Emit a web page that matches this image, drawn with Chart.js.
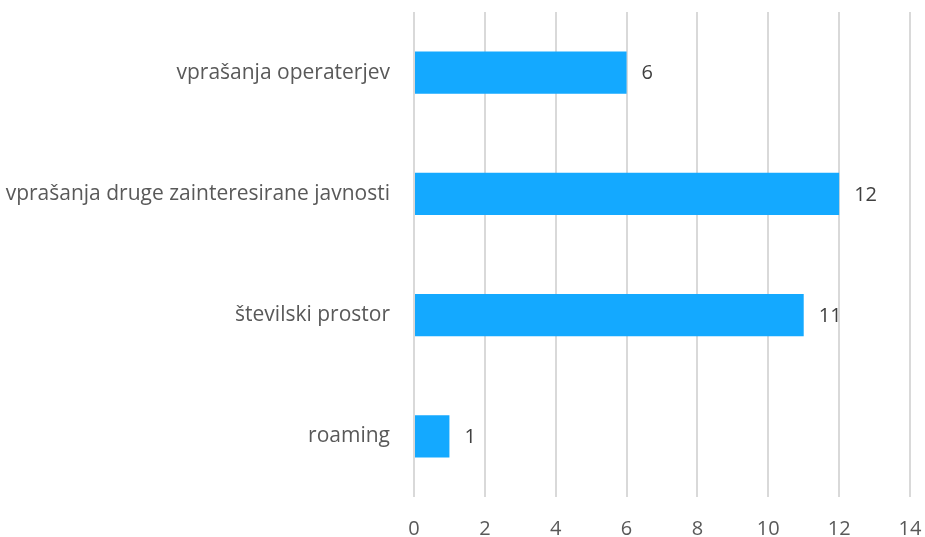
<!DOCTYPE html>
<html>
<head>
<meta charset="utf-8">
<script src="https://cdn.jsdelivr.net/npm/chart.js@4/dist/chart.umd.min.js"></script>
<style>
  html, body { margin: 0; padding: 0; background: #fff; overflow: hidden; }
  #wrap { width: 925px; height: 537px; }
</style>
</head>
<body>
<div id="wrap"><canvas id="barChart" width="925" height="537"></canvas></div>
<script>
const categories = ['vprašanja operaterjev', 'vprašanja druge zainteresirane javnosti', 'številski prostor', 'roaming'];
const counts = [6, 12, 11, 1];
const xTicks = [0, 2, 4, 6, 8, 10, 12, 14];

// draws value next to the end of each bar
const valueLabels = {
  id: 'valueLabels',
  afterDatasetsDraw(chart) {
    const ctx = chart.ctx;
    const meta = chart.getDatasetMeta(0);
    ctx.save();
    ctx.font = '20px "Open Sans"';
    ctx.fillStyle = '#404040';
    ctx.textAlign = 'left';
    ctx.textBaseline = 'middle';
    meta.data.forEach((bar, i) => {
      ctx.fillText(String(counts[i]), bar.x + 15, bar.y + 1);
    });
    ctx.restore();
  }
};

const ctx = document.getElementById('barChart').getContext('2d');
const chart = new Chart(ctx, {
  type: 'bar',
  data: {
    labels: categories,
    datasets: [{
      data: counts,
      backgroundColor: '#14A9FF',
      borderWidth: 0,
      barPercentage: 0.7,
      categoryPercentage: 0.5
    }]
  },
  options: {
    indexAxis: 'y',
    responsive: false,
    animation: false,
    layout: { padding: { top: 12, right: 15, left: 0, bottom: 0 } },
    scales: {
      x: {
        min: 0,
        max: 14,
        afterBuildTicks: (scale) => { scale.ticks = xTicks.map(v => ({ value: v })); },
        grid: { color: '#d9d9d9', lineWidth: 2, drawTicks: false },
        border: { display: false },
        ticks: { color: '#595959', font: { family: 'Open Sans', size: 20 }, padding: 20 },
        afterFit: (scale) => {
          scale.height = 40;
          scale.paddingLeft = 0;
          scale.paddingRight = 0;
        }
      },
      y: {
        grid: { display: false },
        border: { display: false },
        ticks: { color: '#595959', font: { family: 'Open Sans', size: 21 }, padding: 16 },
        afterFit: (scale) => {
          scale.width = 414;
          scale.paddingTop = 0;
          scale.paddingBottom = 0;
        }
      }
    },
    plugins: {
      legend: { display: false },
      tooltip: { enabled: false }
    }
  },
  plugins: [valueLabels]
});
</script>
</body>
</html>
